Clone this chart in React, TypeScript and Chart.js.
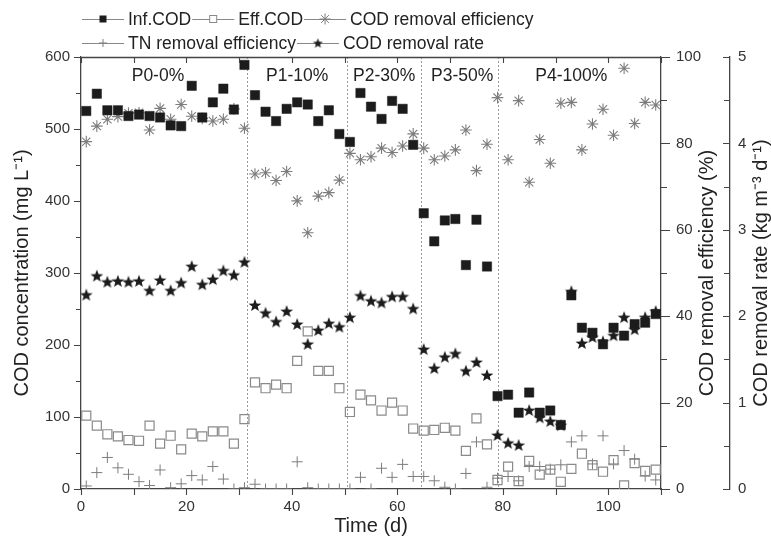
import React, { useEffect, useRef } from 'react';
import { Chart, registerables } from 'chart.js';
Chart.register(...registerables);

const days = [1, 3, 5, 7, 9, 11, 13, 15, 17, 19, 21, 23, 25, 27, 29, 31,
  33, 35, 37, 39, 41, 43, 45, 47, 49,
  51, 53, 55, 57, 59, 61, 63,
  65, 67, 69, 71, 73, 75, 77,
  79, 81, 83, 85, 87, 89, 91, 93, 95, 97, 99, 101, 103, 105, 107, 109];

const infCOD = [525, 549, 526, 526, 518, 520, 518, 516, 505, 504, 560, 516, 537, 556, 527, 589,
  547, 524, 511, 528, 537, 534, 511, 526, 493,
  482, 550, 531, 514, 539, 528, 478,
  383, 344, 373, 375, 311, 374, 309,
  129, 131, 106, 134, 106, 109, 89, 269, 224, 217, 201, 224, 213, 229, 231, 243];

const effCOD = [102, 88, 76, 73, 68, 67, 88, 63, 74, 55, 77, 73, 80, 80, 63, 97,
  148, 140, 145, 140, 178, 219, 164, 164, 140,
  107, 131, 123, 109, 120, 109, 84,
  81, 82, 85, 81, 53, 98, 62,
  12.5, 31, 11, 39, 20, 27, 10, 28, 49, 33, 24, 40, 5, 36, 25, 27];

const codRemovalEff = [80.4, 84.0, 85.6, 86.2, 87.0, 87.1, 83.1, 88.1, 85.6, 89.0, 86.3, 85.8, 85.2, 85.6, 88.0, 83.5,
  72.9, 73.2, 71.4, 73.5, 66.7, 59.3, 67.8, 68.6, 71.5,
  77.7, 76.2, 76.9, 78.9, 77.9, 79.4, 82.2,
  78.9, 76.2, 77.1, 78.5, 83.1, 73.7, 79.8,
  90.6, 76.2, 89.9, 71.0, 80.9, 75.4, 89.3, 89.5, 78.5, 84.5, 87.9, 81.9, 97.4, 84.6, 89.5, 88.9];

const tnRemovalEff = [0.7, 3.8, 7.3, 4.9, 3.4, 1.7, 0.8, 4.4, 0.3, 1.2, 3.1, 2.1, 5.2, 2.3, 0, 0.3,
  1.1, 0, 0, 0, 6.3, 0.3, 0, 0, 0,
  0, 2.7, 0, 4.8, 2.7, 5.7, 2.9,
  2.9, 1.9, 0.4, 0, 3.6, 10.9, 0.4,
  2.5, 2.9, 1.9, 5.2, 5.2, 4.6, 5.6, 10.9, 12.3, 5.8, 12.3, 5.8, 8.9, 6.9, 3.0, 2.1];

const codRemovalRate = [2.25, 2.47, 2.40, 2.41, 2.40, 2.41, 2.30, 2.42, 2.30, 2.39, 2.58, 2.37, 2.43, 2.53, 2.48, 2.63,
  2.13, 2.04, 1.94, 2.06, 1.91, 1.68, 1.84, 1.92, 1.88,
  1.99, 2.24, 2.18, 2.16, 2.23, 2.23, 2.09,
  1.62, 1.40, 1.53, 1.57, 1.37, 1.47, 1.32,
  0.625, 0.536, 0.51, 0.914, 0.83, 0.787, 0.74, 2.29, 1.69, 1.76, 1.71, 1.78, 1.99, 1.85, 1.99, 2.06];

const phaseBoundaries = [31.5, 50.5, 64.5, 79];
const phaseLabels = ['P0-0%', 'P1-10%', 'P2-30%', 'P3-50%', 'P4-100%'];
const phaseLabelDays = [14.6, 41, 57.5, 72.3, 93];

const seriesNames = ['Inf.COD', 'Eff.COD', 'COD removal efficiency', 'TN removal efficiency', 'COD removal rate'];
const axisTitles = {
  x: 'Time (d)',
  y: 'COD concentration (mg L\u207B\u00B9)',
  y2: 'COD removal efficiency (%)',
  y3: 'COD removal rate (kg m\u207B\u00B3 d\u207B\u00B9)',
};

const FONT = '"Liberation Sans", Arial, Helvetica, sans-serif';
const DARK = '#1c1c1c';
const GRAY = '#7d7d7d';
const AXIS = '#444444';

function makeStar(size: number, color: string) {
  const c = document.createElement('canvas');
  c.width = size;
  c.height = size;
  const ctx = c.getContext('2d')!;
  const cx = size / 2;
  const cy = size / 2 + size * 0.05;
  const R = size / 2 - 0.3;
  const r = R * 0.42;
  ctx.beginPath();
  for (let i = 0; i < 10; i++) {
    const ang = -Math.PI / 2 + (i * Math.PI) / 5;
    const rad = i % 2 === 0 ? R : r;
    ctx.lineTo(cx + rad * Math.cos(ang), cy + rad * Math.sin(ang));
  }
  ctx.closePath();
  ctx.fillStyle = color;
  ctx.fill();
  return c;
}

function drawMarker(ctx: CanvasRenderingContext2D, kind: number, cx: number, cy: number, star: HTMLCanvasElement) {
  ctx.save();
  ctx.setLineDash([]);
  if (kind === 0) {
    ctx.fillStyle = DARK;
    ctx.fillRect(cx - 3.5, cy - 3.5, 7, 7);
  } else if (kind === 1) {
    ctx.fillStyle = '#fff';
    ctx.fillRect(cx - 3.5, cy - 3.5, 7, 7);
    ctx.strokeStyle = '#888';
    ctx.lineWidth = 1;
    ctx.strokeRect(cx - 3.5, cy - 3.5, 7, 7);
  } else if (kind === 2) {
    ctx.strokeStyle = GRAY;
    ctx.lineWidth = 1;
    for (let k = 0; k < 4; k++) {
      const a = (k * Math.PI) / 4;
      ctx.beginPath();
      ctx.moveTo(cx - 5.5 * Math.cos(a), cy - 5.5 * Math.sin(a));
      ctx.lineTo(cx + 5.5 * Math.cos(a), cy + 5.5 * Math.sin(a));
      ctx.stroke();
    }
  } else if (kind === 3) {
    ctx.strokeStyle = GRAY;
    ctx.lineWidth = 1;
    ctx.beginPath();
    ctx.moveTo(cx - 4, cy);
    ctx.lineTo(cx + 4, cy);
    ctx.moveTo(cx, cy - 4);
    ctx.lineTo(cx, cy + 4);
    ctx.stroke();
  } else {
    ctx.drawImage(star, cx - star.width / 2, cy - star.height / 2);
  }
  ctx.restore();
}

export default function App() {
  const ref = useRef<HTMLCanvasElement | null>(null);

  useEffect(() => {
    if (!ref.current) return;
    const starImg = makeStar(14, DARK);
    const starSmall = makeStar(11, DARK);

    const decor = {
      id: 'decor',
      beforeDatasetsDraw(chart: any) {
        const { ctx, chartArea, scales } = chart;
        const x = scales.x;
        ctx.save();
        ctx.setLineDash([2, 2]);
        ctx.strokeStyle = '#9a9a9a';
        ctx.lineWidth = 1;
        phaseBoundaries.forEach((d) => {
          const px = Math.round(x.getPixelForValue(d)) + 0.5;
          ctx.beginPath();
          ctx.moveTo(px, chartArea.top);
          ctx.lineTo(px, chartArea.bottom);
          ctx.stroke();
        });
        ctx.setLineDash([]);
        ctx.font = '17.5px ' + FONT;
        ctx.fillStyle = '#222';
        ctx.textAlign = 'center';
        ctx.textBaseline = 'middle';
        phaseLabels.forEach((t, i) => {
          ctx.fillText(t, x.getPixelForValue(phaseLabelDays[i]), chartArea.top + 19);
        });
        ctx.restore();
      },
      afterDraw(chart: any) {
        const { ctx, chartArea, scales } = chart;
        const { x, y, y2, y3 } = scales;
        const { top, bottom, left, right } = chartArea;
        ctx.save();
        ctx.strokeStyle = AXIS;
        ctx.lineWidth = 1.3;
        ctx.beginPath();
        ctx.moveTo(left, top + 0.5);
        ctx.lineTo(right, top + 0.5);
        ctx.stroke();
        ctx.lineWidth = 1.1;
        ctx.beginPath();
        x.ticks.forEach((t: any) => {
          const px = Math.round(x.getPixelForValue(t.value)) + 0.5;
          ctx.moveTo(px, bottom);
          ctx.lineTo(px, bottom + 6);
          ctx.moveTo(px, top);
          ctx.lineTo(px, top + 6);
        });
        y.ticks.forEach((t: any) => {
          const py = Math.round(y.getPixelForValue(t.value)) + 0.5;
          const len = t.value % 100 === 0 ? 7 : 5;
          ctx.moveTo(left - len, py);
          ctx.lineTo(left, py);
        });
        y2.ticks.forEach((t: any) => {
          const py = Math.round(y2.getPixelForValue(t.value)) + 0.5;
          const len = t.value % 20 === 0 ? 9 : 6;
          ctx.moveTo(right, py);
          ctx.lineTo(right + len, py);
        });
        y3.ticks.forEach((t: any) => {
          const py = Math.round(y3.getPixelForValue(t.value)) + 0.5;
          const len = Number.isInteger(t.value) ? 7 : 6;
          ctx.moveTo(y3.left - len, py);
          ctx.lineTo(y3.left, py);
        });
        ctx.stroke();

        ctx.fillStyle = '#222';
        ctx.font = '20px ' + FONT;
        ctx.textAlign = 'center';
        ctx.textBaseline = 'middle';
        const midY = (top + bottom) / 2;
        ctx.fillText(axisTitles.x, (left + right) / 2, 526);
        const vTitle = (t: string, cx: number) => {
          ctx.save();
          ctx.translate(cx, midY);
          ctx.rotate(-Math.PI / 2);
          ctx.fillText(t, 0, 0);
          ctx.restore();
        };
        vTitle(axisTitles.y, 22);
        vTitle(axisTitles.y2, 707);
        vTitle(axisTitles.y3, 761);

        ctx.font = '17.5px ' + FONT;
        ctx.textAlign = 'left';
        const rows = [[0, 1, 2], [3, 4]];
        const rowY = [19, 43];
        rows.forEach((row, ri) => {
          let cx = 82;
          const cy = rowY[ri];
          row.forEach((k) => {
            ctx.strokeStyle = '#888';
            ctx.lineWidth = 1;
            ctx.beginPath();
            ctx.moveTo(cx, cy + 0.5);
            ctx.lineTo(cx + 42, cy + 0.5);
            ctx.stroke();
            drawMarker(ctx, k, cx + 21, cy, starSmall);
            ctx.fillStyle = '#222';
            ctx.fillText(seriesNames[k], cx + 46, cy + 1);
            cx += 46 + ctx.measureText(seriesNames[k]).width + 1;
          });
        });
        ctx.restore();
      },
    };

    const pts = (arr: number[]) => days.map((d, i) => ({ x: d, y: arr[i] }));

    const tickFont = { family: FONT, size: 15 };
    const chart = new Chart(ref.current, {
      type: 'scatter',
      data: {
        datasets: [
          {
            label: seriesNames[4], data: pts(codRemovalRate), yAxisID: 'y3', order: 0,
            pointStyle: starImg as any, pointRadius: 7, borderWidth: 0,
          },
          {
            label: seriesNames[0], data: pts(infCOD), yAxisID: 'y', order: 1,
            pointStyle: 'rect', pointRadius: 6.6, backgroundColor: DARK, borderColor: DARK, borderWidth: 0.5,
          },
          {
            label: seriesNames[2], data: pts(codRemovalEff), yAxisID: 'y2', order: 2,
            pointStyle: 'star', pointRadius: 5.8, borderColor: GRAY, backgroundColor: GRAY, borderWidth: 1.1,
          },
          {
            label: seriesNames[1], data: pts(effCOD), yAxisID: 'y', order: 3,
            pointStyle: 'rect', pointRadius: 6.4, backgroundColor: 'rgba(255,255,255,0)', borderColor: '#8a8a8a', borderWidth: 1.2,
          },
          {
            label: seriesNames[3], data: pts(tnRemovalEff), yAxisID: 'y2', order: 4,
            pointStyle: 'cross', pointRadius: 5.5, borderColor: GRAY, borderWidth: 1,
            clip: { left: 10, right: 10, top: 10, bottom: 0 } as any,
          },
        ],
      },
      options: {
        animation: false,
        responsive: true,
        maintainAspectRatio: false,
        events: [],
        layout: { padding: { top: 57, left: 0, right: 0, bottom: 0 } },
        plugins: { legend: { display: false }, tooltip: { enabled: false } },
        scales: {
          x: {
            type: 'linear', position: 'bottom', min: 0, max: 110,
            grid: { display: false, drawTicks: false },
            border: { display: true, color: AXIS, width: 1.3 },
            ticks: {
              stepSize: 10, autoSkip: false, maxRotation: 0, padding: 9, color: '#333', font: tickFont,
              callback: (v: any) => (v % 20 === 0 && v <= 100 ? String(v) : ''),
            },
            afterFit: (s: any) => { s.height = 56; },
          },
          y: {
            type: 'linear', position: 'left', min: 0, max: 600,
            grid: { display: false, drawTicks: false },
            border: { display: true, color: AXIS, width: 1.3 },
            ticks: {
              stepSize: 50, autoSkip: false, padding: 11, color: '#333', font: tickFont,
              callback: (v: any) => (v % 100 === 0 ? String(v) : ''),
            },
            afterFit: (s: any) => { s.width = 81; },
          },
          y2: {
            type: 'linear', position: 'right', weight: 1, min: 0, max: 100,
            grid: { display: false, drawTicks: false },
            border: { display: true, color: AXIS, width: 1.3 },
            ticks: {
              stepSize: 10, autoSkip: false, padding: 15, color: '#333', font: tickFont,
              callback: (v: any) => (v % 20 === 0 ? String(v) : ''),
            },
            afterFit: (s: any) => { s.width = 69; },
          },
          y3: {
            type: 'linear', position: 'right', weight: 2, min: 0, max: 5,
            grid: { display: false, drawTicks: false },
            border: { display: true, color: AXIS, width: 1.3 },
            ticks: {
              stepSize: 0.5, autoSkip: false, padding: 8, color: '#333', font: tickFont,
              callback: (v: any) => (Number.isInteger(v) ? String(v) : ''),
            },
            afterFit: (s: any) => { s.width = 41; },
          },
        },
      },
      plugins: [decor],
    } as any);
    return () => chart.destroy();
  }, []);

  return (
    <div style={{ position: 'fixed', left: 0, top: 0, width: 771, height: 545, background: '#fff' }}>
      <canvas ref={ref} />
    </div>
  );
}
